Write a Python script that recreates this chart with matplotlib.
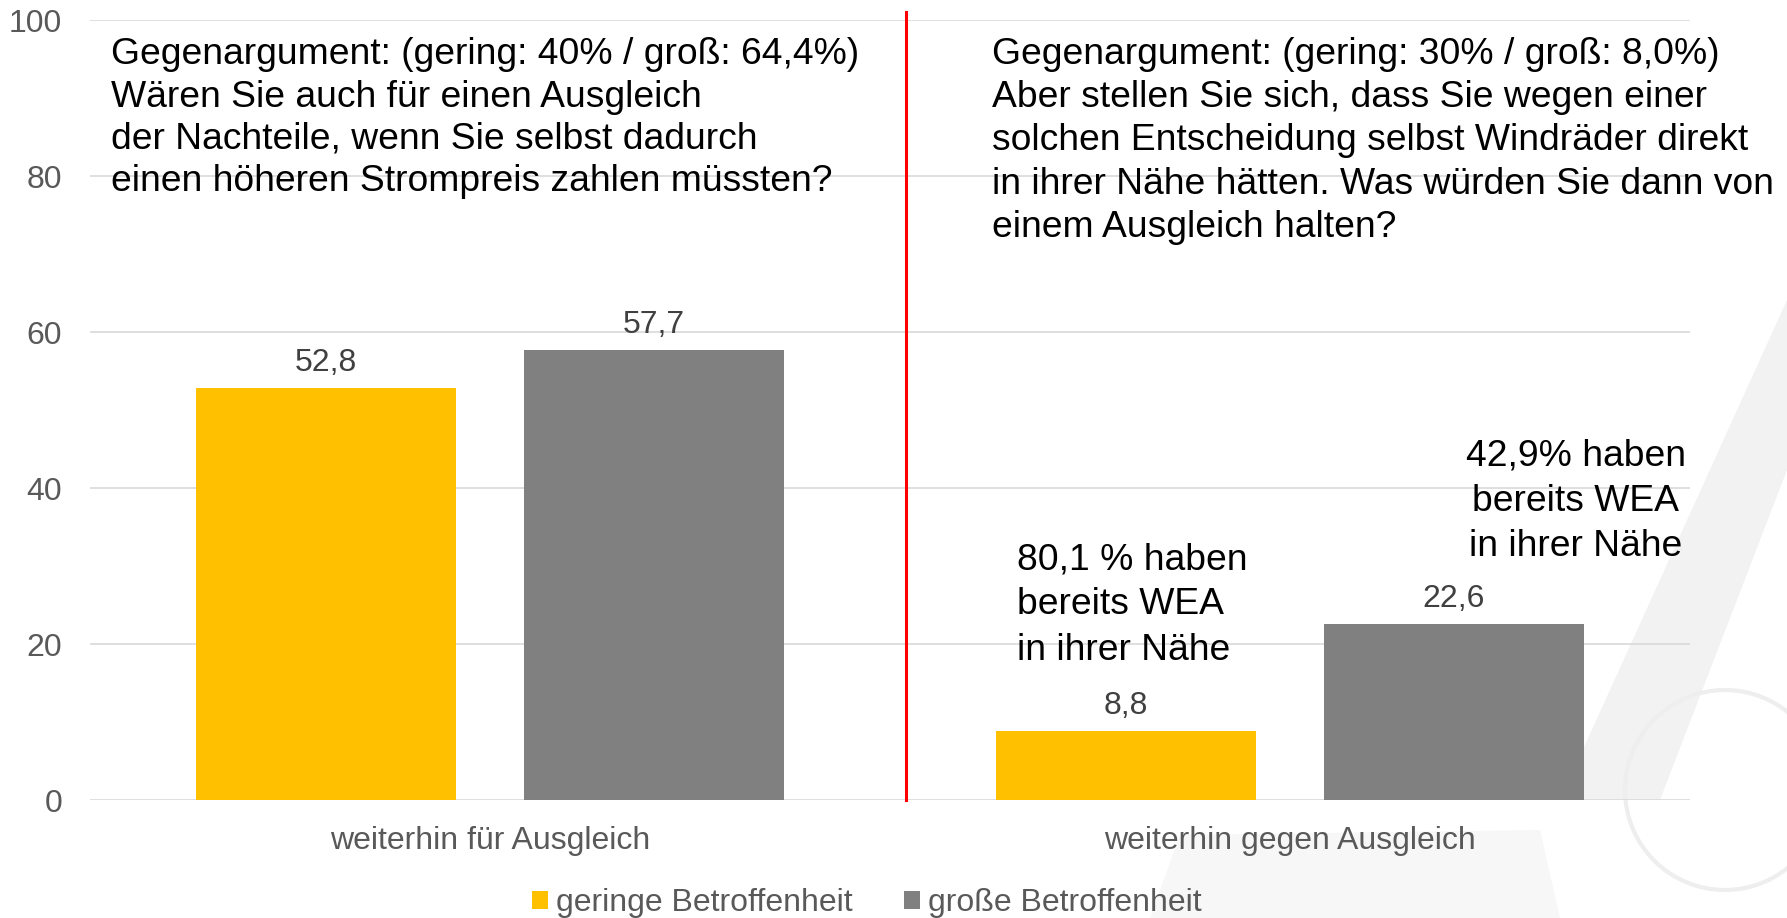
import matplotlib
matplotlib.use("Agg")
import matplotlib.pyplot as plt
import numpy as np
from matplotlib.patches import Patch, Polygon, Ellipse

plt.rcParams['font.family'] = ['Liberation Sans', 'DejaVu Sans']

categories = ["weiterhin für Ausgleich", "weiterhin gegen Ausgleich"]
series_names = ["geringe Betroffenheit", "große Betroffenheit"]
gering = [52.8, 8.8]
gross = [57.7, 22.6]
value_labels_gering = ["52,8", "8,8"]
value_labels_gross = ["57,7", "22,6"]
yticks = [0, 20, 40, 60, 80, 100]

note_left = ("Gegenargument: (gering: 40% / groß: 64,4%)\n"
             "Wären Sie auch für einen Ausgleich\n"
             "der Nachteile, wenn Sie selbst dadurch\n"
             "einen höheren Strompreis zahlen müssten?")
note_right = ("Gegenargument: (gering: 30% / groß: 8,0%)\n"
              "Aber stellen Sie sich, dass Sie wegen einer\n"
              "solchen Entscheidung selbst Windräder direkt\n"
              "in ihrer Nähe hätten. Was würden Sie dann von\n"
              "einem Ausgleich halten?")
note_gering = "80,1 % haben\nbereits WEA\nin ihrer Nähe"
note_gross = "42,9% haben\nbereits WEA\nin ihrer Nähe"

C_GERING = "#FFC000"
C_GROSS = "#808080"
C_TEXT = "#595959"
C_VAL = "#404040"

W, H = 1787, 918
fig = plt.figure(figsize=(W / 100, H / 100), dpi=100)

# very faint background sketch (watermark-like decoration)
def fp(px, py):
    return (px / W, 1 - py / H)
fig.patches.append(Polygon([fp(1560, 800), fp(1660, 800), fp(1787, 470), fp(1787, 300)],
                           closed=True, transform=fig.transFigure, facecolor="#F2F2F2",
                           edgecolor="none", zorder=-5))
fig.patches.append(Ellipse(fp(1725, 790), 200 / W, 200 / H, transform=fig.transFigure,
                           facecolor="none", edgecolor="#EEEEEE", linewidth=3, zorder=-5))
fig.patches.append(Polygon([fp(1150, 918), fp(1560, 918), fp(1540, 830), fp(1180, 835)],
                           closed=True, transform=fig.transFigure, facecolor="#F7F7F7",
                           edgecolor="none", zorder=-6))

ax = fig.add_axes([90 / W, (H - 800) / H, 1600 / W, 780 / H])
ax.set_facecolor("none")

x = np.arange(len(categories))
bw = 0.324
off = 0.205
b1 = ax.bar(x - off, gering, bw, color=C_GERING, zorder=2, label=series_names[0])
b2 = ax.bar(x + off, gross, bw, color=C_GROSS, zorder=2, label=series_names[1])

for rect, lab in zip(b1, value_labels_gering):
    ax.annotate(lab, (rect.get_x() + rect.get_width() / 2, rect.get_height()),
                xytext=(0, 18.0), textcoords="offset points", ha="center", va="center",
                fontsize=23, color=C_VAL)
for rect, lab in zip(b2, value_labels_gross):
    ax.annotate(lab, (rect.get_x() + rect.get_width() / 2, rect.get_height()),
                xytext=(0, 18.0), textcoords="offset points", ha="center", va="center",
                fontsize=23, color=C_VAL)

ax.set_xlim(-0.5, 1.5)
ax.set_ylim(0, 100)
ax.set_yticks(yticks)
ax.set_yticklabels([str(v) for v in yticks])
ax.set_xticks(x)
ax.set_xticklabels(categories)
ax.tick_params(axis="both", length=0, labelsize=23, labelcolor=C_TEXT)
ax.tick_params(axis="y", pad=20)
ax.tick_params(axis="x", pad=19)
ax.grid(axis="y", color="#D9D9D9", linewidth=1.2, zorder=0)
ax.set_axisbelow(True)
for s in ax.spines.values():
    s.set_visible(False)

# red divider
ax.plot([0.52, 0.52], [0, 101.0], color="#FF0000", linewidth=2.2, zorder=3, clip_on=False)

# annotations
ax.text(-0.474, 87.4, note_left, ha="left", va="center", fontsize=26.8,
        color="black", linespacing=1.275)
ax.text(0.627, 84.5, note_right, ha="left", va="center", fontsize=26.8,
        color="black", linespacing=1.3)
ax.text(0.659, 25.0, note_gering, ha="left", va="center", fontsize=26.8,
        color="black", linespacing=1.38)
ax.text(1.3575, 38.3, note_gross, ha="center", va="center", fontsize=26.8,
        color="black", linespacing=1.38, multialignment="center")

handles = [Patch(facecolor=C_GERING), Patch(facecolor=C_GROSS)]
leg = fig.legend(handles, series_names, loc="center", bbox_to_anchor=(0.485, 1 - 903 / H),
                 ncol=2, frameon=False, fontsize=23, handlelength=0.5, handleheight=0.5,
                 handletextpad=0.25, columnspacing=1.6, borderaxespad=0)
for t in leg.get_texts():
    t.set_color(C_TEXT)

fig.savefig("out.png", dpi=100)
